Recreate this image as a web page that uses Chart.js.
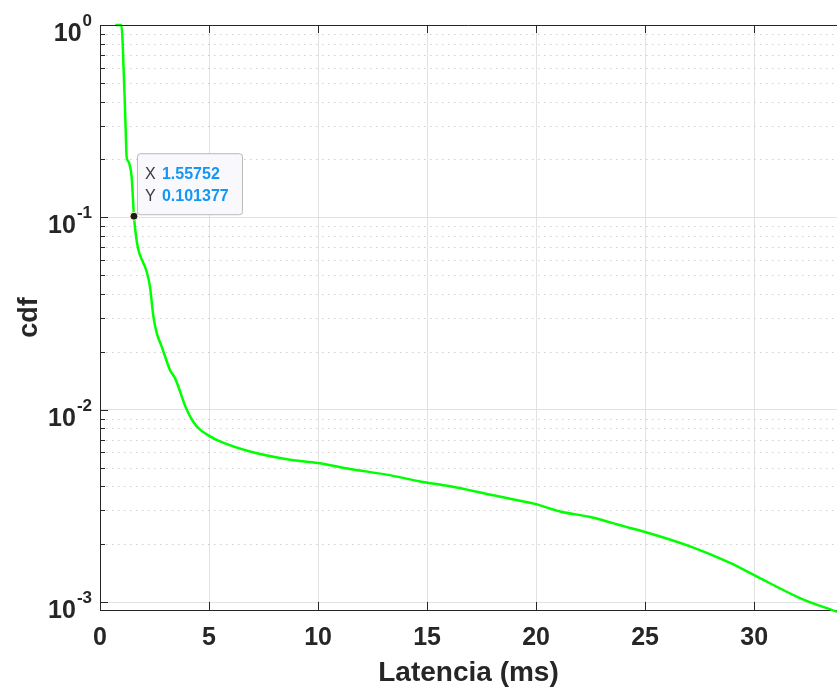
<!DOCTYPE html>
<html>
<head>
<meta charset="utf-8">
<script src="https://cdn.jsdelivr.net/npm/chart.js@4.4.0/dist/chart.umd.min.js"></script>
<style>
  html, body { margin: 0; padding: 0; background: #fff; }
  #wrap { width: 837px; height: 690px; }
</style>
</head>
<body>
<div id="wrap"><canvas id="cdfChart" width="837" height="690"></canvas></div>
<script>
// latency (ms) and the complementary cdf
const latenciaMs = [0.7, 0.98, 1.03, 1.08, 1.13, 1.18, 1.22, 1.3, 1.345, 1.45, 1.5575, 1.65, 1.76, 1.83, 2.14, 2.29, 2.45, 2.6, 2.83, 3.21, 3.44, 3.98, 4.43, 5.05, 5.5, 6.88, 8.72, 10, 11.47, 13.15, 14.68, 16.06, 18.04, 19.95, 21.1, 22.48, 24.3, 24.92, 27.06, 28.9, 29.96, 32.1, 33.8];
const cdfValues  = [1, 1, 0.85, 0.6, 0.42, 0.28, 0.207, 0.195, 0.19, 0.163, 0.101377, 0.08, 0.0678, 0.0638, 0.0523, 0.0437, 0.0305, 0.0251, 0.0213, 0.0161, 0.0146, 0.01, 0.0082, 0.00727, 0.00685, 0.00607, 0.0055, 0.00529, 0.00492, 0.0046, 0.00424, 0.0040, 0.00359, 0.00324, 0.00296, 0.00277, 0.00243, 0.00233, 0.00195, 0.0016, 0.00139, 0.00105, 0.00089];

const xTicks = [0, 5, 10, 15, 20, 25, 30];
const yDecades = [0.001, 0.01, 0.1, 1];
const yExponents = ['-3', '-2', '-1', '0'];

const tipX = 1.55752;
const tipY = 0.101377;

const axisColor = '#262626';
const gridColor = '#e2e2e2';
const fontFam = '"Liberation Sans", Arial, sans-serif';

// minor positions 2..9 of each decade
const yMinor = [];
[0.0001, 0.001, 0.01, 0.1].forEach(function(d) {
  for (let m = 2; m <= 9; m++) yMinor.push(d * m);
});

const matlabAxes = {
  id: 'matlabAxes',
  beforeDatasetsDraw: function(chart) {
    const ctx = chart.ctx, a = chart.chartArea, ys = chart.scales.y;
    ctx.save();
    ctx.strokeStyle = '#cfcfcf';
    ctx.lineWidth = 1;
    ctx.setLineDash([1.5, 4.5]);
    yMinor.forEach(function(v) {
      const py = Math.round(ys.getPixelForValue(v)) + 0.5;
      if (py < a.top || py > a.bottom) return;
      ctx.beginPath();
      ctx.moveTo(a.left, py);
      ctx.lineTo(a.right, py);
      ctx.stroke();
    });
    ctx.restore();
  },
  afterDatasetsDraw: function(chart) {
    const ctx = chart.ctx, a = chart.chartArea, xs = chart.scales.x, ys = chart.scales.y;
    ctx.save();
    ctx.strokeStyle = axisColor;
    ctx.lineWidth = 1;
    // top box line
    ctx.beginPath();
    ctx.moveTo(a.left, a.top + 0.5);
    ctx.lineTo(a.right, a.top + 0.5);
    ctx.stroke();
    // x ticks, inward, bottom and top
    xTicks.forEach(function(v) {
      const px = Math.round(xs.getPixelForValue(v)) + 0.5;
      ctx.beginPath();
      ctx.moveTo(px, a.bottom); ctx.lineTo(px, a.bottom - 8);
      ctx.moveTo(px, a.top); ctx.lineTo(px, a.top + 8);
      ctx.stroke();
    });
    // y ticks, inward
    yDecades.forEach(function(v) {
      const py = Math.round(ys.getPixelForValue(v)) + 0.5;
      ctx.beginPath();
      ctx.moveTo(a.left, py); ctx.lineTo(a.left + 8, py);
      ctx.stroke();
    });
    yMinor.forEach(function(v) {
      const py = Math.round(ys.getPixelForValue(v)) + 0.5;
      if (py < a.top || py > a.bottom) return;
      ctx.beginPath();
      ctx.moveTo(a.left, py); ctx.lineTo(a.left + 5, py);
      ctx.stroke();
    });
    ctx.restore();
  },
  afterDraw: function(chart) {
    const ctx = chart.ctx, xs = chart.scales.x, ys = chart.scales.y;
    ctx.save();
    // y tick labels with superscript exponents
    ctx.fillStyle = axisColor;
    ctx.textBaseline = 'alphabetic';
    yDecades.forEach(function(v, i) {
      const py = ys.getPixelForValue(v);
      const right = 92;
      ctx.font = 'bold 17px ' + fontFam;
      const ew = ctx.measureText(yExponents[i]).width;
      ctx.textAlign = 'right';
      ctx.fillText(yExponents[i], right, py + 1);
      ctx.font = 'bold 25px ' + fontFam;
      ctx.fillText('10', right - ew - 1, py + 16);
    });

    // data tip
    const px = xs.getPixelForValue(tipX), py = ys.getPixelForValue(tipY);
    const bx = px + 3, bw = 105, bh = 61, by = py - 2 - bh;
    ctx.beginPath();
    ctx.roundRect(bx + 0.5, by + 0.5, bw, bh, 3);
    ctx.fillStyle = '#f8f8fd';
    ctx.fill();
    ctx.strokeStyle = '#b9b9b9';
    ctx.lineWidth = 1;
    ctx.stroke();
    ctx.textAlign = 'left';
    ctx.textBaseline = 'middle';
    ctx.font = '16px ' + fontFam;
    ctx.fillStyle = '#3a3a3a';
    ctx.fillText('X', bx + 8, by + 21);
    ctx.fillText('Y', bx + 8, by + 43);
    ctx.font = 'bold 16px ' + fontFam;
    ctx.fillStyle = '#1497f2';
    ctx.fillText(tipX.toString(), bx + 25, by + 21);
    ctx.fillText(tipY.toString(), bx + 25, by + 43);

    // marker
    ctx.beginPath();
    ctx.arc(px, py, 4, 0, Math.PI * 2);
    ctx.fillStyle = '#1a1a1a';
    ctx.fill();
    ctx.strokeStyle = '#fff6c8';
    ctx.lineWidth = 1;
    ctx.stroke();
    ctx.restore();
  }
};

new Chart(document.getElementById('cdfChart'), {
  type: 'scatter',
  data: {
    datasets: [{
      data: latenciaMs.map(function(x, i) { return { x: x, y: cdfValues[i] }; }),
      showLine: true,
      borderColor: '#00ff00',
      borderWidth: 2.5,
      pointRadius: 0,
      cubicInterpolationMode: 'monotone',
      clip: false
    }]
  },
  options: {
    responsive: false,
    devicePixelRatio: 1,
    animation: false,
    layout: { padding: { top: 25, right: 0, left: 0, bottom: 0 } },
    plugins: { legend: { display: false }, tooltip: { enabled: false } },
    scales: {
      x: {
        type: 'linear',
        min: 0,
        max: 33.8,
        afterBuildTicks: function(s) { s.ticks = xTicks.map(function(v) { return { value: v }; }); },
        afterFit: function(s) { s.height = 80; },
        ticks: {
          color: axisColor,
          padding: 13,
          maxRotation: 0,
          font: { family: fontFam, size: 25, weight: 'bold' }
        },
        grid: { color: gridColor, drawTicks: false },
        border: { color: axisColor, width: 1 },
        title: {
          display: true,
          text: 'Latencia (ms)',
          color: axisColor,
          padding: { top: 0, bottom: 0 },
          font: { family: fontFam, size: 28, weight: 'bold' }
        }
      },
      y: {
        type: 'logarithmic',
        min: 0.00091,
        max: 1,
        afterBuildTicks: function(s) { s.ticks = yDecades.map(function(v) { return { value: v }; }); },
        afterFit: function(s) { s.width = 100; },
        ticks: { display: false },
        grid: { color: gridColor, drawTicks: false },
        border: { color: axisColor, width: 1 },
        title: {
          display: true,
          text: 'cdf',
          color: axisColor,
          padding: { top: 13, bottom: 0 },
          font: { family: fontFam, size: 27, weight: 'bold' }
        }
      }
    }
  },
  plugins: [matlabAxes]
});
</script>
</body>
</html>
